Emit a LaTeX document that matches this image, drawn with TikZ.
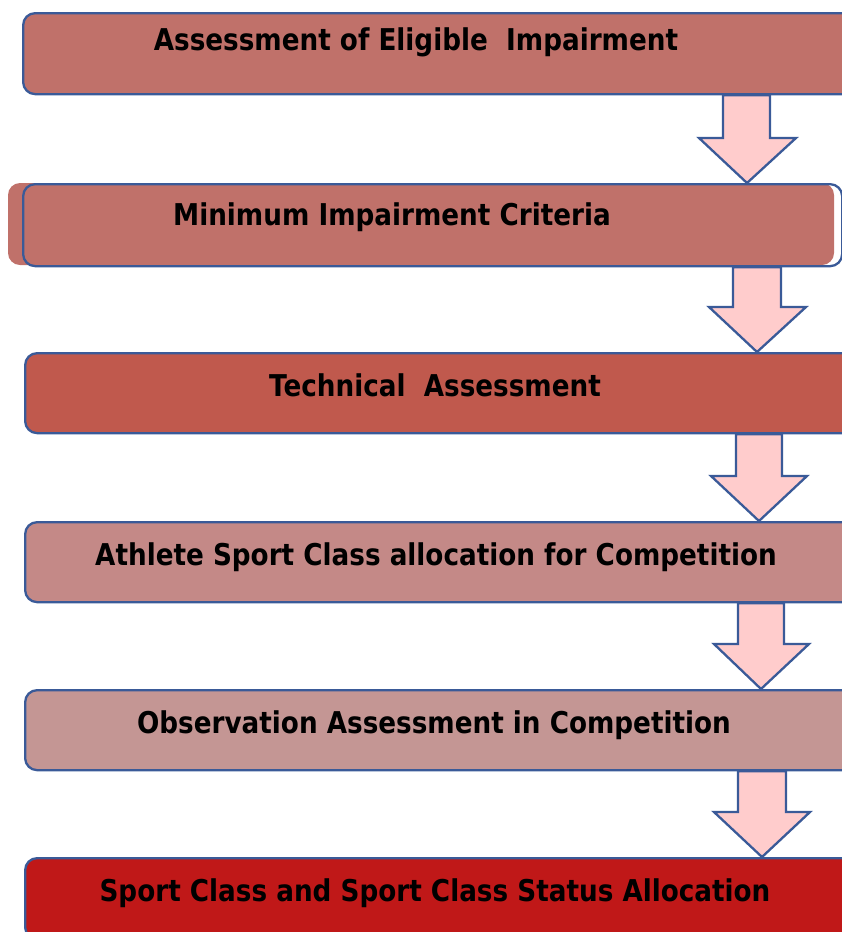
\documentclass[tikz,border=0pt]{standalone}
\usepackage{fontspec}
\newfontfamily\boxfont[FakeStretch=0.875]{DejaVu Sans}
\usetikzlibrary{calc}
\definecolor{bord}{RGB}{58,90,152}
\definecolor{cA}{RGB}{192,113,106}
\definecolor{cC}{RGB}{192,89,77}
\definecolor{cD}{RGB}{196,137,135}
\definecolor{cE}{RGB}{196,150,148}
\definecolor{cF}{RGB}{192,24,24}
\definecolor{arrowpink}{RGB}{255,204,204}
\newcommand\blockarr[7]{%
  \draw[blockarrow] (#3,0 |- #1.south) -- ($(#3,0 |- #2.north)+(0,-45)$) -- ($(#5,0 |- #2.north)+(0,-45)$)
    -- (#7,0 |- #2.north) -- ($(#6,0 |- #2.north)+(0,-45)$) -- ($(#4,0 |- #2.north)+(0,-45)$)
    -- (#4,0 |- #1.south) -- cycle;}
\begin{document}
\begin{tikzpicture}[x=1pt,y=-1pt,
  box/.style={draw=bord, line width=2.3pt, rounded corners=12pt, minimum height=81pt, inner sep=0pt, anchor=north west},
  lbl/.style={font=\boxfont\bfseries\fontsize{30}{36}\selectfont, anchor=base, inner sep=0pt},
  blockarrow/.style={draw=bord, fill=arrowpink, line width=2.3pt, line join=miter}]
\useasboundingbox (0,0) rectangle (842,932);
\clip (0,0) rectangle (842,932);
% boxes
\node[box, fill=cA, minimum width=838pt] (b1) at (22,12) {};
\fill[cA, rounded corners=12pt] (8,183) rectangle (834,265);
\node[box, minimum width=819pt, minimum height=82pt] (b2) at (22,183) {};
\node[box, fill=cC, minimum width=836pt, minimum height=80pt] (b3) at (24,352) {};
\node[box, fill=cD, minimum width=836pt, minimum height=80pt] (b4) at (24,521) {};
\node[box, fill=cE, minimum width=836pt, minimum height=80pt] (b5) at (24,689) {};
\node[box, fill=cF, minimum width=836pt] (b6) at (24,857) {};
% arrows
\blockarr{b1}{b2}{723}{770}{699}{796}{747}
\blockarr{b2}{b3}{733}{781}{709}{806}{757}
\blockarr{b3}{b4}{736}{782}{711}{807}{759}
\blockarr{b4}{b5}{738}{784}{714}{809}{761}
\blockarr{b5}{b6}{738}{786}{714}{810}{762}
% labels
\node[lbl] (t1) at (416,50) {Assessment of Eligible\ \ Impairment};
\node[lbl] (t2) at (392,225) {Minimum Impairment Criteria};
\node[lbl] (t3) at (435,396) {Technical\ \ Assessment};
\node[lbl] (t4) at (436,565) {Athlete Sport Class allocation for Competition};
\node[lbl] (t5) at (434,733) {Observation Assessment in Competition};
\node[lbl] (t6) at (435,901) {Sport Class and Sport Class Status Allocation};
\end{tikzpicture}
\end{document}
